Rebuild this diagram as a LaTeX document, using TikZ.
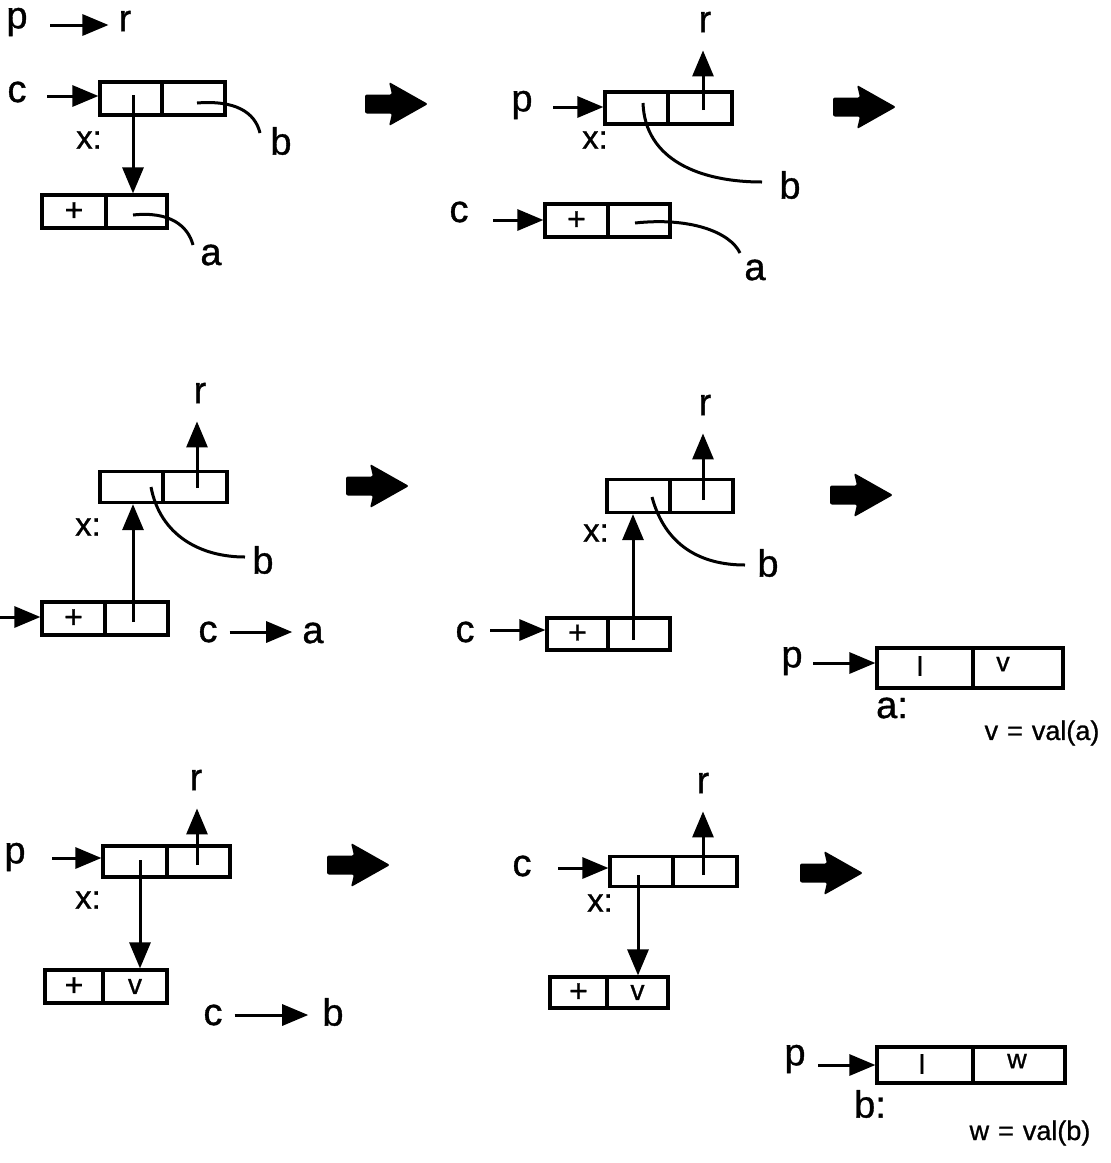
\documentclass[tikz,border=0pt]{standalone}
\usepackage{fontspec}
\setmainfont{Liberation Sans}[FakeBold=0.9]
\usetikzlibrary{arrows.meta}
\tikzset{
  lbl/.style={inner sep=0pt, font=\fontsize{38}{42}\selectfont},
  xlbl/.style={inner sep=0pt, font=\fontsize{33}{38}\selectfont},
  small/.style={inner sep=0pt, font=\fontsize{27}{32}\selectfont},
  cell/.style={draw, line width=3.2pt, inner sep=0pt, font=\fontsize{32}{36}\selectfont},
  ptr/.style={line width=3pt, -{Triangle[length=26pt,width=21pt]}},
  curv/.style={line width=3pt},
  bigarrow/.pic={\fill[rounded corners=2pt] (0,-9.5) -- (27,-9.5) -- (24,-22) -- (63,0) -- (24,22) -- (27,9.5) -- (0,9.5) -- cycle;}
}
\begin{document}
\begin{tikzpicture}[x=1pt,y=-1pt]
\useasboundingbox[fill=white] (0,0) rectangle (1111,1163);

% ---------------- Panel 1 ----------------
\node[lbl] (p1) at (17,22) {p};
\node[lbl] (r1) at (125,21) {r};
\coordinate (p1o) at (50,25);
\draw[ptr, shorten >=10pt] (p1o) -- (p1o -| r1.west);
\node[lbl] (c1) at (17,92) {c};
\node[cell, minimum width=62, minimum height=33] (A1l) at (131,98.5) {};
\node[cell, minimum width=63, minimum height=33] (A1r) at (193.5,98.5) {};
\coordinate (c1o) at (47,96);
\draw[ptr] (c1o) -- (c1o -| A1l.west);
\node[xlbl] (x1) at (89,140) {x:};
\node[cell, minimum width=64, minimum height=33] (A2l) at (74,211.5) {+};
\node[cell, minimum width=61, minimum height=33] (A2r) at (136.5,211.5) {};
\coordinate (s1) at (133,95);
\draw[ptr] (s1) -- (s1 |- A2r.north);
\node[lbl] (b1) at (281,141) {b};
\coordinate (s1b) at (197,103);
\coordinate (e1b) at (260,133);
\draw[curv] (s1b) .. controls (235,100) and (255,112) .. (e1b);
\node[lbl] (a1) at (211,255) {a};
\coordinate (s1a) at (133,215);
\coordinate (e1a) at (193,245);
\draw[curv] (s1a) .. controls (170,211) and (188,226) .. (e1a);

\pic at (365,104) {bigarrow};

% ---------------- Panel 2 ----------------
\node[lbl] (p2) at (522,105) {p};
\node[cell, minimum width=63, minimum height=32] (B1l) at (636.5,108) {};
\node[cell, minimum width=64, minimum height=32] (B1r) at (700,108) {};
\coordinate (p2o) at (553,107);
\draw[ptr] (p2o) -- (p2o -| B1l.west);
\node[lbl] (r2) at (705,22) {r};
\coordinate (s2r) at (703,110);
\draw[ptr, shorten >=18pt] (s2r) -- (s2r |- r2.south);
\node[xlbl] (x2) at (595,140) {x:};
\node[lbl] (b2) at (790,185) {b};
\coordinate (s2b) at (643,103);
\coordinate (e2b) at (762,182);
\draw[curv] (s2b) .. controls (645,160) and (700,182) .. (e2b);
\node[lbl] (c2) at (459,212) {c};
\node[cell, minimum width=63, minimum height=33] (B2l) at (576.5,220.5) {+};
\node[cell, minimum width=62, minimum height=33] (B2r) at (639,220.5) {};
\coordinate (c2o) at (493,220);
\draw[ptr] (c2o) -- (c2o -| B2l.west);
\node[lbl] (a2) at (755,270) {a};
\coordinate (s2a) at (635,223);
\coordinate (e2a) at (740,253);
\draw[curv] (s2a) .. controls (690,217) and (730,232) .. (e2a);

\pic at (833,107) {bigarrow};

% ---------------- Panel 3 ----------------
\node[cell, minimum width=63, minimum height=31] (C1l) at (131.5,487) {};
\node[cell, minimum width=64, minimum height=31] (C1r) at (195,487) {};
\node[lbl] (r3) at (200,393) {r};
\coordinate (s3r) at (197,488);
\draw[ptr, shorten >=18pt] (s3r) -- (s3r |- r3.south);
\node[lbl] (b3) at (263,560) {b};
\coordinate (s3b) at (151,487);
\coordinate (e3b) at (245,557);
\draw[curv] (s3b) .. controls (160,535) and (200,557) .. (e3b);
\node[xlbl] (x3) at (88,527) {x:};
\node[cell, minimum width=63, minimum height=33] (C2l) at (73.5,618.5) {+};
\node[cell, minimum width=63, minimum height=33] (C2r) at (136.5,618.5) {};
\coordinate (s3u) at (133,622);
\draw[ptr] (s3u) -- (s3u |- C1l.south);
\coordinate (c3o) at (-2,617);
\draw[ptr] (c3o) -- (c3o -| C2l.west);
\node[lbl] (c3) at (208,632) {c};
\node[lbl] (a3) at (313,633) {a};
\draw[ptr, shorten <=12pt, shorten >=10pt] (c3.east) -- (c3.east -| a3.west);

\pic at (346,486) {bigarrow};

% ---------------- Panel 4 ----------------
\node[cell, minimum width=63, minimum height=33] (D1l) at (638.5,496) {};
\node[cell, minimum width=63, minimum height=33] (D1r) at (701.5,496) {};
\node[lbl] (r4) at (705,405) {r};
\coordinate (s4r) at (703,500);
\draw[ptr, shorten >=18pt] (s4r) -- (s4r |- r4.south);
\node[lbl] (b4) at (768,563) {b};
\coordinate (s4b) at (652,497);
\coordinate (e4b) at (745,565);
\draw[curv] (s4b) .. controls (665,545) and (700,565) .. (e4b);
\node[xlbl] (x4) at (596,533) {x:};
\node[cell, minimum width=61, minimum height=32] (D2l) at (577.5,634) {+};
\node[cell, minimum width=62, minimum height=32] (D2r) at (639,634) {};
\coordinate (s4u) at (633,640);
\draw[ptr] (s4u) -- (s4u |- D1l.south);
\node[lbl] (c4) at (465,632) {c};
\coordinate (c4o) at (490,630);
\draw[ptr] (c4o) -- (c4o -| D2l.west);

\pic at (830,495) {bigarrow};

% ---------------- Result a ----------------
\node[lbl] (pa) at (792,661) {p};
\node[cell, minimum width=96, minimum height=40] (El) at (925,668) {};
\node[cell, minimum width=90, minimum height=40] (Er) at (1018,668) {};
\node[small] (El1) at (920,666) {l};
\node[small] (Erv) at (1003,664) {v};
\coordinate (pao) at (813,663);
\draw[ptr] (pao) -- (pao -| El.west);
\node[lbl] (alab) at (892,708) {a:};
\node[small] (va) at (1042,733) {v\,\,=\,\,val(a)};

% ---------------- Panel 5 ----------------
\node[lbl] (p5) at (15,857) {p};
\node[cell, minimum width=64, minimum height=31] (F1l) at (135,861.5) {};
\node[cell, minimum width=63, minimum height=31] (F1r) at (198.5,861.5) {};
\coordinate (p5o) at (52,858);
\draw[ptr] (p5o) -- (p5o -| F1l.west);
\node[lbl] (r5) at (196,780) {r};
\coordinate (s5r) at (197,865);
\draw[ptr, shorten >=18pt] (s5r) -- (s5r |- r5.south);
\node[xlbl] (x5) at (88,900) {x:};
\node[cell, minimum width=58, minimum height=33] (F2l) at (74,986.5) {+};
\node[cell, minimum width=64, minimum height=33] (F2r) at (135,986.5) {\fontsize{28}{32}\selectfont v};
\coordinate (s5d) at (140,860);
\draw[ptr] (s5d) -- (s5d |- F2r.north);
\node[lbl] (c5) at (213,1015) {c};
\node[lbl] (b5) at (333,1012) {b};
\draw[ptr, shorten <=12pt, shorten >=14pt] (c5.east) -- (c5.east -| b5.west);

\pic at (327,865) {bigarrow};

% ---------------- Panel 6 ----------------
\node[lbl] (c6) at (522,866) {c};
\node[cell, minimum width=63, minimum height=30] (G1l) at (641.5,871.5) {};
\node[cell, minimum width=64, minimum height=30] (G1r) at (705,871.5) {};
\coordinate (c6o) at (558,868);
\draw[ptr] (c6o) -- (c6o -| G1l.west);
\node[lbl] (r6) at (703,783) {r};
\coordinate (s6r) at (703,875);
\draw[ptr, shorten >=18pt] (s6r) -- (s6r |- r6.south);
\node[xlbl] (x6) at (600,903) {x:};
\node[cell, minimum width=57, minimum height=31] (G2l) at (578.5,992.5) {+};
\node[cell, minimum width=61, minimum height=31] (G2r) at (637.5,992.5) {\fontsize{28}{32}\selectfont v};
\coordinate (s6d) at (638,875);
\draw[ptr] (s6d) -- (s6d |- G2r.north);

\pic at (800,873) {bigarrow};

% ---------------- Result b ----------------
\node[lbl] (pb) at (795,1059) {p};
\node[cell, minimum width=96, minimum height=36] (Hl) at (925,1065) {};
\node[cell, minimum width=92, minimum height=36] (Hr) at (1019,1065) {};
\node[small] (Hl1) at (922,1064) {l};
\node[small] (Hrw) at (1017,1061) {w};
\coordinate (pbo) at (818,1065);
\draw[ptr] (pbo) -- (pbo -| Hl.west);
\node[lbl] (blab) at (870,1104) {b:};
\node[small] (wb) at (1030,1133) {w\,\,=\,\,val(b)};
\end{tikzpicture}
\end{document}
